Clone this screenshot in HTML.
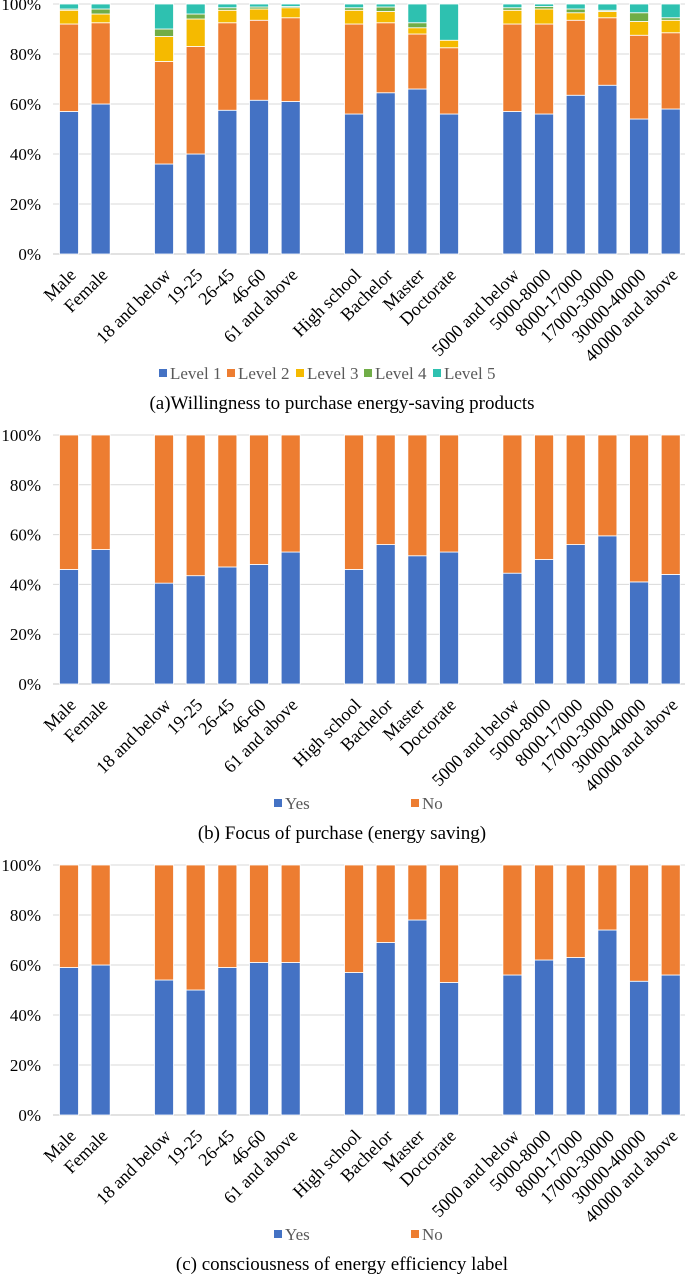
<!DOCTYPE html>
<html><head><meta charset="utf-8">
<style>
html,body{margin:0;padding:0;background:#fff;}
svg{display:block;font-family:"Liberation Serif",serif;}
</style></head>
<body>
<svg id="fig" width="685" height="1274" viewBox="0 0 685 1274" xmlns="http://www.w3.org/2000/svg"></svg>
<script>
// Slot layout: null entries are gaps between category groups
const categories = ["Male","Female",null,"18 and below","19-25","26-45","46-60","61 and above",null,"High school","Bachelor","Master","Doctorate",null,"5000 and below","5000-8000","8000-17000","17000-30000","30000-40000","40000 and above"];
const tickLabels = ["0%","20%","40%","60%","80%","100%"];
const tickValues = [0,20,40,60,80,100];

// Chart (a) - five levels (percent)
const level1 = [57,60,36,40,57.5,61.5,61,56,64.5,66,56,57,56,63.5,67.5,54,58];
const level2 = [35,32.5,41,43,35,32,33.5,36,28,22,26.5,35,36,30,27,33.5,30.5];
const level3 = [5.5,3.5,10,11,5,4.5,4,5.5,4.5,2.5,3,5.5,6,3,2.5,5.5,5];
const level4 = [0.5,2,3,2,1,0.8,0.5,1,1.8,2,0,1,1,1.5,0.5,3.5,1];
const level5 = [2,2,10,4,1.5,1.2,1,1.5,1.2,7.5,14.5,1.5,1,2,2.5,3.5,5.5];

// Chart (b) - focus of purchase, Yes percent
const focusYes = [46,54,40.5,43.5,47,48,53,46,56,51.5,53,44.5,50,56,59.5,41,44];
// Chart (c) - consciousness of label, Yes percent
const labelYes = [59,60,54,50,59,61,61,57,69,78,53,56,62,63,74,53.5,56];

const colors = ["#4472C4","#ED7D31","#F5BA00","#70AD47","#2EC1B0"];
const NS = "http://www.w3.org/2000/svg";
const svg = document.getElementById("fig");

function el(tag, attrs, parent, text){
  const e = document.createElementNS(NS, tag);
  for (const k in attrs) e.setAttribute(k, attrs[k]);
  if (text !== undefined) e.textContent = text;
  (parent||svg).appendChild(e);
  return e;
}

const slotX0 = 69, slotW = 31.67, barW = 19, plotL = 53, plotR = 685;
function xScale(i){ return slotX0 + slotW*i; }

function drawChart(id, y0, y100, series, names, legendXs, caption){
  const g = el("g", {}, svg);
  
  
  const yScale = v => y0 - (y0 - y100) * v / 100;
  tickValues.forEach((t, k) => {
    const y = yScale(t);
    const ln = el("line", {x1:plotL, x2:plotR, y1:y, y2:y, stroke:"#d9d9d9", "stroke-width": t===0?1.5:1}, g);
    
    
    const tx = el("text", {x:41, y:y+6, "text-anchor":"end", "font-size":17, fill:"#000"}, g, tickLabels[k]);
    
    
  });
  let di = 0;
  categories.forEach((c, i) => {
    if (c === null) return;
    const cx = xScale(i);
    let cum = 0;
    series.forEach((s, si) => {
      const v = s[di];
      const yTop = yScale(cum + v), yBot = yScale(cum);
      cum += v;
      if (v <= 0) return;
      const r = el("rect", {x:cx - barW/2, y:yTop, width:barW, height:Math.max(0, yBot - yTop), fill:colors[si], stroke:"#fff", "stroke-width":0.8}, g);
      
      
    });
    const ax = cx + 8, ay = y0 + 22;
    const lbl = el("text", {x:ax, y:ay, "text-anchor":"end", "font-size":18, fill:"#000", transform:`rotate(-45 ${ax} ${ay})`}, g, c);
    
    
    di++;
  });
  const ly = y0 + 119;
  names.forEach((n, si) => {
    const lx = legendXs[si];
    const sq = el("rect", {x:lx - 4, y:ly - 4, width:8, height:8, fill:colors[si]}, g);
    
    
    const t = el("text", {x:lx + 7, y:ly + 6, "font-size":17, fill:"#595959"}, g, n);
    
    
  });
  const cap = el("text", {x:342, y:y0 + 155, "text-anchor":"middle", "font-size":19, fill:"#000"}, g, caption);
  
  
}

drawChart("willingness", 254, 4, [level1,level2,level3,level4,level5],
  ["Level 1","Level 2","Level 3","Level 4","Level 5"], [163,231,300,368,437],
  "(a)Willingness to purchase energy-saving products");
drawChart("focus", 684, 435, [focusYes, focusYes.map(v => 100 - v)],
  ["Yes","No"], [278,415], "(b) Focus of purchase (energy saving)");
drawChart("consciousness", 1115, 865, [labelYes, labelYes.map(v => 100 - v)],
  ["Yes","No"], [278,415], "(c) consciousness of energy efficiency label");
</script>
</body></html>
